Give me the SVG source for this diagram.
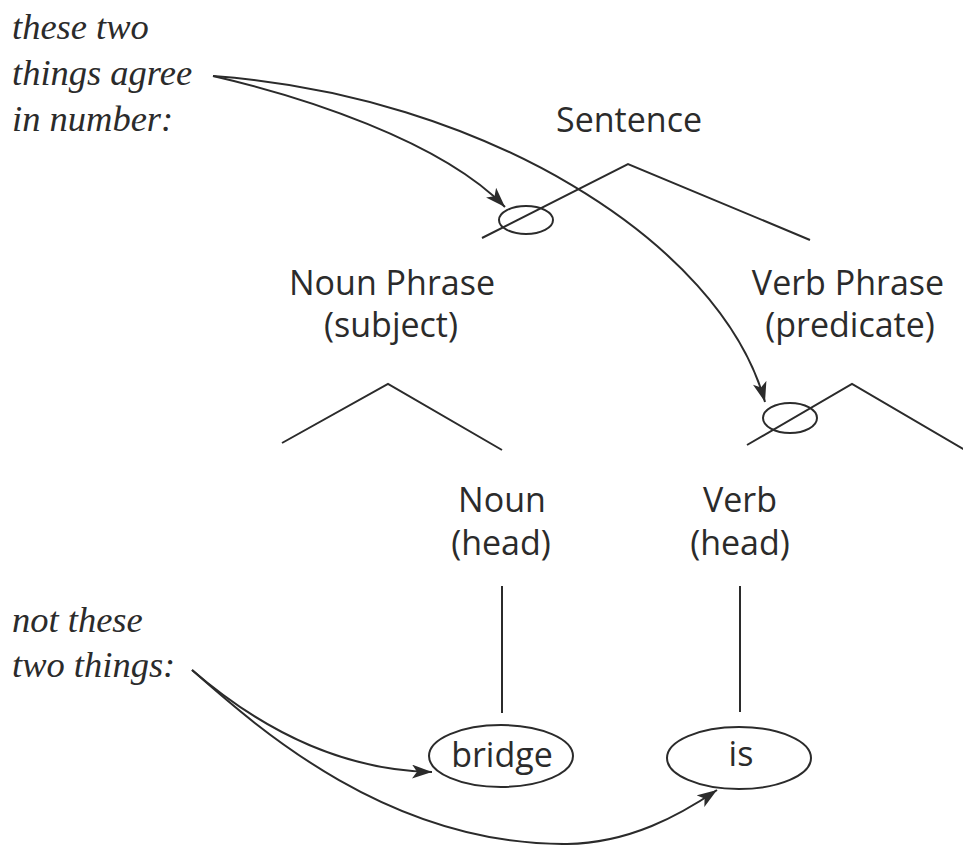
<svg xmlns="http://www.w3.org/2000/svg" width="963" height="845" viewBox="0 0 963 845">
<style>
.lbl{font-family:"Open Sans","Noto Sans","Liberation Sans",sans-serif;font-size:34px;fill:#2b2b2b;text-anchor:middle}
.note{font-family:"Liberation Serif","DejaVu Serif",serif;font-style:italic;font-size:36.5px;fill:#2b2b2b}
.ln{fill:none;stroke:#2b2b2b;stroke-width:2}
.arr{fill:none;stroke:#2b2b2b;stroke-width:2;marker-end:url(#ah)}
</style>
<defs>
<marker id="ah" markerUnits="userSpaceOnUse" markerWidth="22" markerHeight="14" viewBox="0 0 22 14" refX="20" refY="7" orient="auto">
<path d="M0,0 L20,7 L0,14 L5,7 Z" fill="#2b2b2b"/>
</marker>
</defs>
<rect width="963" height="845" fill="#ffffff"/>
<g id="note-agree">
<text class="note" x="12" y="39">these two</text>
<text class="note" x="12" y="85">things agree</text>
<text class="note" x="12" y="131">in number:</text>
</g>
<g id="note-not">
<text class="note" x="12" y="632">not these</text>
<text class="note" x="12" y="677">two things:</text>
</g>
<g id="sentence">
<text class="lbl" x="629" y="132">Sentence</text>
<path class="ln" d="M482,238 L628,164 L810,240"/>
<ellipse class="ln" cx="526" cy="220" rx="27" ry="14"/>
</g>
<g id="noun-phrase">
<text class="lbl" x="392" y="295">Noun Phrase</text>
<text class="lbl" x="391" y="337">(subject)</text>
<path class="ln" d="M282,443 L388,384 L502,450"/>
</g>
<g id="verb-phrase">
<text class="lbl" x="848" y="295">Verb Phrase</text>
<text class="lbl" x="850" y="337">(predicate)</text>
<path class="ln" d="M747,445 L852,384 L965,450"/>
<ellipse class="ln" cx="790" cy="418" rx="27" ry="15"/>
</g>
<g id="noun">
<text class="lbl" x="502" y="512">Noun</text>
<text class="lbl" x="501" y="555">(head)</text>
<line class="ln" x1="502" y1="586" x2="502" y2="713"/>
</g>
<g id="verb">
<text class="lbl" x="740" y="512">Verb</text>
<text class="lbl" x="740" y="555">(head)</text>
<line class="ln" x1="740" y1="586" x2="740" y2="712"/>
</g>
<g id="bridge">
<ellipse class="ln" cx="501" cy="756" rx="72" ry="31"/>
<text class="lbl" x="502" y="767">bridge</text>
</g>
<g id="is">
<ellipse class="ln" cx="739" cy="758" rx="72" ry="31"/>
<text class="lbl" x="741" y="766">is</text>
</g>
<g id="connectors">
<path class="arr" d="M213,76 C300,96 440,140 505,207"/>
<path class="arr" d="M213,76 C480,95 720,240 765,402"/>
<path class="arr" d="M192,670 C250,720 330,770 432,772"/>
<path class="arr" d="M192,670 C260,730 390,845 567,844 C630,843 680,815 717,790"/>
</g>
</svg>
